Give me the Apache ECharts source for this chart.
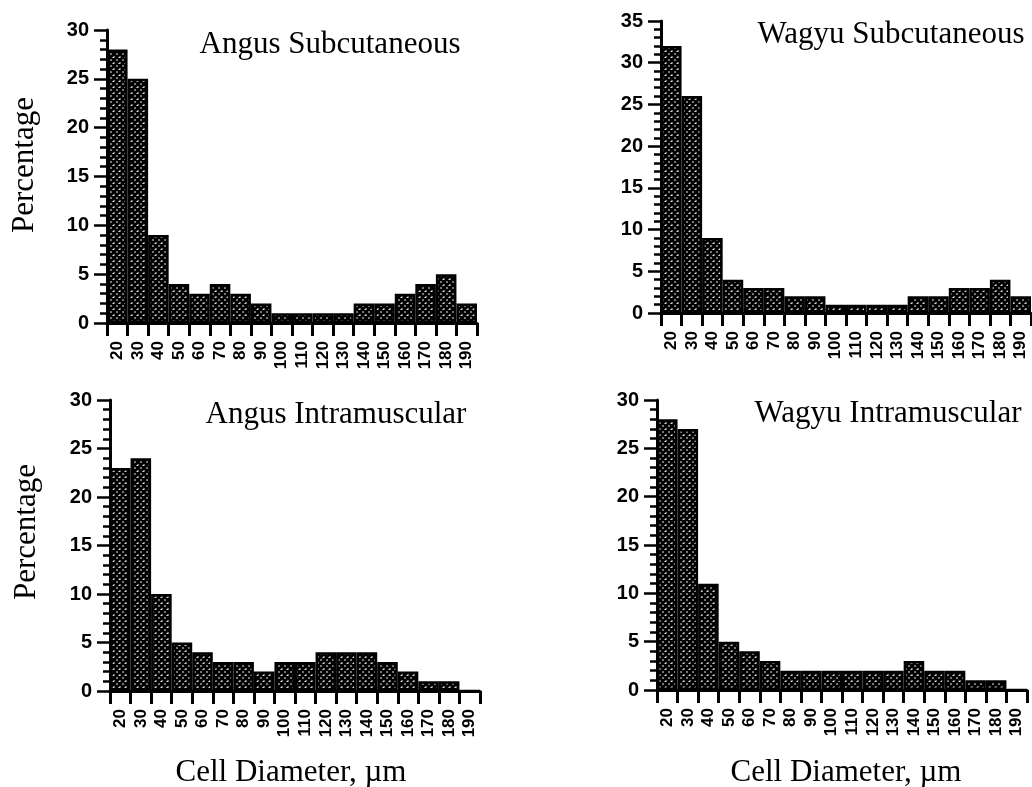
<!DOCTYPE html>
<html>
<head>
<meta charset="utf-8">
<script src="https://cdn.jsdelivr.net/npm/echarts@6/dist/echarts.min.js"></script>
<style>
html,body{margin:0;padding:0;background:#fff;}
#chart{width:1032px;height:787px;}
</style>
</head>
<body>
<div id="chart"></div>
<script>
// ---- data ----
const categories = ['20','30','40','50','60','70','80','90','100','110','120','130','140','150','160','170','180','190'];
const angusSub  = [28,25,9,4,3,4,3,2,1,1,1,1,2,2,3,4,5,2];
const wagyuSub  = [32,26,9,4,3,3,2,2,1,1,1,1,2,2,3,3,4,2];
const angusIM   = [23,24,10,5,4,3,3,2,3,3,4,4,4,3,2,1,1,0];
const wagyuIM   = [28,27,11,5,4,3,2,2,2,2,2,2,3,2,2,1,1,0];
const panelTitles = ['Angus Subcutaneous','Wagyu Subcutaneous','Angus Intramuscular','Wagyu Intramuscular'];
const yMax = [30,35,30,30];
const yName = 'Percentage';
const xName = 'Cell Diameter, µm';

// ---- hatch pattern ----
const pc = document.createElement('canvas');
pc.width = 6; pc.height = 6;
const g = pc.getContext('2d');
g.fillStyle = '#d8d8d8';
g.fillRect(0,0,6,6);
g.strokeStyle = '#000';
g.lineWidth = 2.8;
g.beginPath();
for (let k=-6;k<=12;k+=6){
  g.moveTo(k,0); g.lineTo(k+6,6);
  g.moveTo(k+6,0); g.lineTo(k,6);
}
g.stroke();
const hatch = {image: pc, repeat: 'repeat'};

const grids = [
  {left:107, top:30,  width:370, height:293},
  {left:661, top:21,  width:370, height:292},
  {left:110, top:400, width:370, height:291},
  {left:657, top:400, width:370, height:290}
];
const seriesData = [angusSub, wagyuSub, angusIM, wagyuIM];

const serif = 'Liberation Serif';
const sans = 'Liberation Sans';
const tf = '31px "' + serif + '"';

const option = {
  animation:false,
  backgroundColor:'#fff',
  grid: grids,
  xAxis: grids.map((_,i)=>({
    type:'category', gridIndex:i, data:categories,
    boundaryGap:true,
    axisLine:{show:true, lineStyle:{color:'#000', width:3}},
    axisTick:{show:true, alignWithLabel:false, length:13, lineStyle:{color:'#000', width:3}},
    axisLabel:{interval:0, rotate:90, margin:18, color:'#000', fontFamily:sans, fontWeight:'bold', fontSize:17},
    splitLine:{show:false}
  })),
  yAxis: grids.map((_,i)=>({
    type:'value', gridIndex:i, min:0, max:yMax[i], interval:5,
    axisLine:{show:true, lineStyle:{color:'#000', width:3}},
    axisTick:{show:true, length:13, lineStyle:{color:'#000', width:2.5}},
    minorTick:{show:true, splitNumber:5, length:7, lineStyle:{color:'#000', width:2.5}},
    axisLabel:{margin:18, color:'#000', fontFamily:sans, fontWeight:'bold', fontSize:20},
    splitLine:{show:false}
  })),
  series: seriesData.map((d,i)=>({
    type:'bar', xAxisIndex:i, yAxisIndex:i, data:d,
    barCategoryGap:'0%',
    itemStyle:{color:hatch, borderColor:'#000', borderWidth:2.5}
  })),
  graphic: [
    {type:'text', x:330, y:45, style:{text:panelTitles[0], font:tf, fill:'#000', align:'center', verticalAlign:'middle'}},
    {type:'text', x:891, y:35, style:{text:panelTitles[1], font:tf, fill:'#000', align:'center', verticalAlign:'middle'}},
    {type:'text', x:336, y:415, style:{text:panelTitles[2], font:tf, fill:'#000', align:'center', verticalAlign:'middle'}},
    {type:'text', x:888, y:414, style:{text:panelTitles[3], font:tf, fill:'#000', align:'center', verticalAlign:'middle'}},
    {type:'text', x:25, y:165, rotation:Math.PI/2, style:{text:yName, font:tf, fill:'#000', align:'center', verticalAlign:'middle'}},
    {type:'text', x:27, y:532, rotation:Math.PI/2, style:{text:yName, font:tf, fill:'#000', align:'center', verticalAlign:'middle'}},
    {type:'text', x:291, y:773, style:{text:xName, font:tf, fill:'#000', align:'center', verticalAlign:'middle'}},
    {type:'text', x:846, y:773, style:{text:xName, font:tf, fill:'#000', align:'center', verticalAlign:'middle'}}
  ]
};
const chart = echarts.init(document.getElementById('chart'), null, {renderer:'canvas'});
chart.setOption(option);
</script>
</body>
</html>
